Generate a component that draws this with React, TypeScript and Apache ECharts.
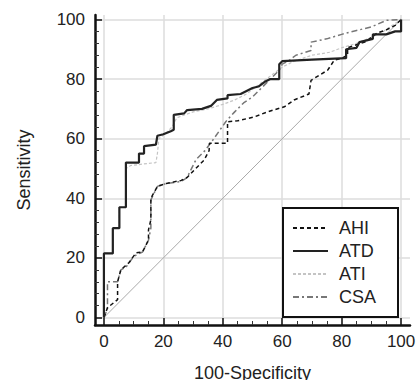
import React, { useEffect, useRef } from "react";
import * as echarts from "echarts";

const tickValues = [0, 20, 40, 60, 80, 100];
const legendNames = ["AHI", "ATD", "ATI", "CSA"];

const diagonal: [number, number][] = [[0, 0], [100, 100]];

const ahi: [number, number][] = [
  [0, 0], [1.2, 3.3], [4.6, 6], [4.6, 12], [5.7, 16], [8.4, 18.4], [10.8, 21.7], [13, 22],
  [15, 26], [15, 29.4], [15.8, 32.8], [15.8, 40], [18, 44], [21, 45], [26, 46], [28, 47],
  [30.4, 49.5], [33.7, 52.8], [35.4, 56], [35.5, 58.5], [41.6, 58.5], [41.6, 65.7], [45, 66],
  [50.6, 67.3], [55, 69], [60.7, 70.7], [64, 73], [69, 75], [69.7, 79.6], [72, 81], [75.3, 83],
  [77.5, 86.3], [80, 87], [82, 88], [82, 90.5], [88, 92.5], [92, 95.5], [95, 96.5], [98, 98], [100, 100],
];

const atd: [number, number][] = [
  [0, 0], [0, 21.5], [3, 21.5], [3, 30], [5.2, 30], [5.2, 37], [7.4, 37], [7.4, 52], [11.8, 52],
  [11.8, 55], [13.5, 55], [13.5, 57.5], [17.5, 58], [18, 61], [20, 61.5], [22.5, 62.5], [23.5, 63],
  [23.5, 68], [27, 68.5], [28, 69.6], [33, 70], [36, 71], [38, 73], [41.6, 73.5], [41.6, 74.6],
  [46, 75], [48, 76], [50, 77], [52, 77.5], [54, 79], [56, 80], [59, 80], [59, 85], [60, 86],
  [70, 86.5], [81.5, 87], [81.5, 90], [85, 90.5], [86, 92.4], [90.5, 93.5], [90.5, 95], [95, 95],
  [98, 96], [100, 96], [100, 100],
];

const ati: [number, number][] = [
  [0, 0], [0, 21.5], [3, 21.5], [3, 30], [5.2, 30], [5.2, 37], [7.4, 37], [7.4, 50], [9, 51],
  [17.5, 52], [18, 55], [18.5, 60], [21, 62], [23, 64], [24.5, 67], [30, 69], [35, 70], [40, 71.5],
  [44, 73], [48, 75], [52, 78], [56, 81], [60, 84], [64, 86], [70, 88], [76, 89], [80, 90.5],
  [85, 92], [90, 94], [94, 96], [97, 98], [100, 100],
];

const csa: [number, number][] = [
  [0, 0], [1.2, 3], [1.2, 12], [4.6, 12], [5.7, 16], [7.5, 17], [10, 20.5], [13, 22], [15, 26],
  [15.8, 30], [15.8, 39.5], [18, 44], [21, 45], [26, 45.6], [28, 47], [31, 53], [34, 56], [37, 60],
  [41, 65.7], [44, 69], [47, 72], [50, 74], [53, 77], [56, 80], [59, 83], [60, 85], [62, 86],
  [64.6, 88], [69.7, 89.6], [69.7, 92.4], [75, 93.5], [80, 95], [85, 96.3], [90, 97.5], [95, 99.7],
  [100, 100],
];

export default function App() {
  const ref = useRef<HTMLDivElement>(null);
  useEffect(() => {
    const chart = echarts.init(ref.current!, undefined, { renderer: "svg" });
    const font = "'Liberation Sans', Arial, sans-serif";
    const axisCommon = {
      type: "value",
      nameLocation: "middle",
      nameMoveOverlap: false,
      nameTextStyle: { fontFamily: font, fontSize: 18, color: "#222" },
      axisLine: { show: true, onZero: false, lineStyle: { color: "#111", width: 2.5 } },
      axisTick: { show: true, inside: true, length: 7, customValues: tickValues, lineStyle: { color: "#111", width: 1.5 } },
      axisLabel: { customValues: tickValues, fontFamily: font, fontSize: 17, color: "#222" },
      splitLine: { show: true, lineStyle: { color: "#dcdcdc", width: 1.5 } },
    };
    const lineSeries = (name: string, data: [number, number][], color: string, width: number, type: any, z: number) => ({
      name,
      type: "line",
      data,
      symbol: "none",
      z,
      itemStyle: { color, opacity: 0 },
      lineStyle: { color, width, type },
    });
    chart.setOption({
      animation: false,
      backgroundColor: "#fff",
      grid: { left: 95, right: 8, top: 15, bottom: 55, containLabel: false, outerBoundsMode: "none" },
      xAxis: {
        ...axisCommon,
        min: -3,
        max: 103,
        name: "100-Specificity",
        nameGap: 39,
        minorTick: { show: true, splitNumber: 4, length: 4, lineStyle: { color: "#333", width: 1 } },
        axisLabel: { ...axisCommon.axisLabel, margin: 8 },
      },
      yAxis: {
        ...axisCommon,
        min: -2.5,
        max: 101.5,
        name: "Sensitivity",
        nameGap: 62,
        minorTick: { show: true, splitNumber: 5, length: 4, lineStyle: { color: "#333", width: 1 } },
        axisLabel: { ...axisCommon.axisLabel, margin: 10 },
      },
      legend: {
        data: legendNames,
        orient: "vertical",
        left: 283,
        top: 208,
        padding: [11, 22, 11, 9],
        itemWidth: 35,
        itemHeight: 14,
        itemGap: 5,
        borderColor: "#111",
        borderWidth: 2,
        backgroundColor: "#fff",
        itemStyle: { opacity: 0, color: "transparent", borderWidth: 0 },
        textStyle: { fontFamily: font, fontSize: 18, color: "#222", padding: [0, 0, 0, 6] },
      },
      series: [
        { name: "ref", type: "line", data: diagonal, symbol: "none", silent: true, lineStyle: { color: "#aaa", width: 1 }, z: 1 },
        lineSeries("CSA", csa, "#777", 1.5, [6, 3, 2, 3], 2),
        lineSeries("ATI", ati, "#c4c4c4", 1.2, [3, 2], 3),
        lineSeries("AHI", ahi, "#111", 1.5, [4, 3], 4),
        lineSeries("ATD", atd, "#222", 2.2, "solid", 5),
      ],
    });
    return () => chart.dispose();
  }, []);
  return <div ref={ref} style={{ position: "fixed", left: 0, top: 0, width: 418, height: 380 }} />;
}
